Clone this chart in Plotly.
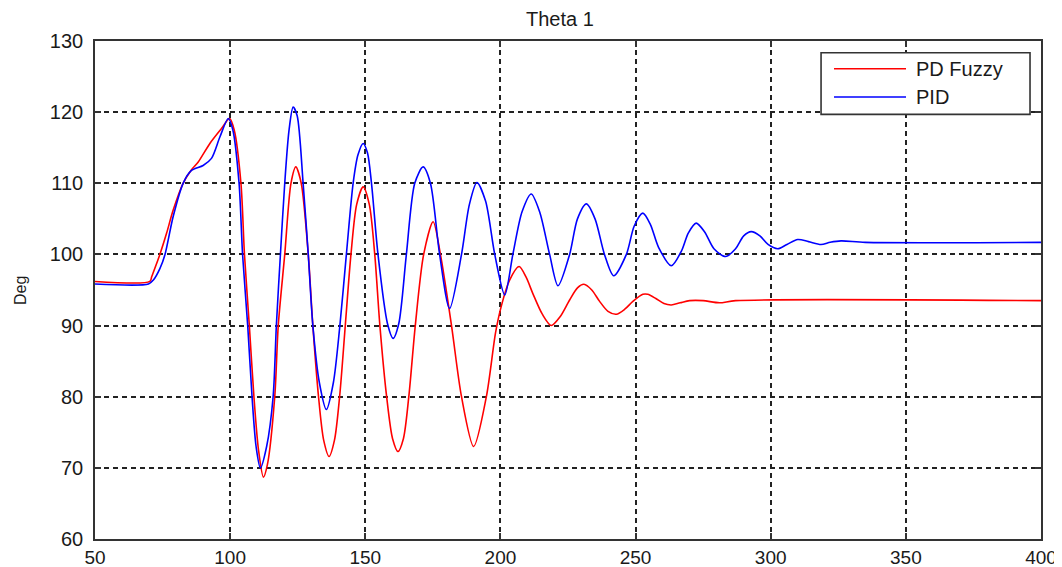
import plotly.graph_objects as go

# ---- data ----
t_fuzzy = [50, 70.3, 71, 74, 76.5, 78.9, 82.6, 85.5, 88.2, 92.5, 96.8, 99.8, 101.5, 104, 105.3,
           107.1, 108.8, 110.5, 112.3, 113.8, 116.5, 117.8, 120.2, 122.5, 124.3, 126.3, 128.9,
           130.6, 132.7, 134.6, 136.6, 138.6, 140.5, 142.6, 144.7, 146.8, 149.2, 151.5, 153.5,
           155.4, 157.9, 160.1, 162.1, 164.1, 166.1, 168.5, 171.6, 175.1, 177.8, 181.9, 185.6,
           190.1, 194.8, 198.2, 200.3, 203.4, 206.9, 209.5, 212, 215.5, 218.8, 222, 225.6,
           228.5, 230.9, 233.8, 236.7, 239.8, 242.9, 246, 249, 252.7, 254.5, 257.5, 260.5,
           263.2, 266.5, 270, 275, 281, 287, 400]
pd_fuzzy = [96.2, 96.2, 96.9, 100, 103, 106.2, 110, 111.8, 113, 115.6, 117.7, 119.1, 117.5, 110, 100,
            90, 80, 72.5, 68.7, 70.5, 80, 90, 100, 110, 112.3, 110, 100,
            90, 80, 73.9, 71.6, 73.9, 80, 90, 100, 107, 109.5, 107, 100,
            90, 80, 74.1, 72.3, 74.1, 80, 90, 100, 104.6, 100, 90, 80,
            73, 80, 89, 92.7, 96.4, 98.3, 96.8, 94.5, 91.6, 90, 91.2, 93.6,
            95.3, 95.8, 95, 93.4, 92, 91.6, 92.3, 93.4, 94.4, 94.4, 93.8, 93.1,
            92.9, 93.2, 93.5, 93.5, 93.2, 93.5, 93.5]

t_pid = [50, 69.8, 71.6, 74, 75.9, 78.9, 82.6, 85.7, 90, 93.1, 96.2, 99.3, 101, 103.3, 104.6,
         106.5, 108.1, 109.6, 111.2, 113.5, 115.9, 117.1, 118.6, 120.2, 121.8, 123.3, 124.8,
         127, 128.9, 130.6, 133, 135.6, 138.2, 140.6, 143, 145.5, 147.3, 149.2, 150.8,
         152.3, 154.7, 158.2, 160.3, 162.4, 165.2, 168.3, 171.4, 174.1, 177.5, 181.2, 185.6,
         188.5, 191.3, 194.5, 197.9, 201.6, 204.6, 208, 211.4, 214.5, 218.2, 221.3, 225.6,
         228.5, 231.8, 235, 238.5, 241.9, 246.6, 249.5, 252.7, 255.5, 258.5, 263.2, 267,
         269.5, 272.4, 275.5, 279, 283.3, 287, 290, 292.8, 296, 299, 302.6, 306, 310, 314,
         318.6, 322, 326, 335, 400]
pid = [95.85, 95.85, 96.4, 98, 100, 105.3, 110, 111.8, 112.5, 113.5, 116.5, 119.1, 117.5, 110, 100,
       90, 80, 73, 70.0, 73, 80, 90, 100, 110, 117.5, 120.7, 119.5,
       110, 100, 90, 82, 78.2, 82, 90, 100, 110, 114, 115.6, 114.3,
       110, 100, 90.3, 88.2, 90.3, 100, 110, 112.3, 110, 100, 92.4, 100,
       107, 110.1, 107.5, 100, 94.3, 100, 106, 108.5, 106, 100, 95.6, 100,
       105, 107.1, 105, 100, 97, 100, 104, 105.8, 104.2, 101, 98.4, 100.5,
       103, 104.4, 103.2, 100.8, 99.7, 100.8, 102.6, 103.2, 102.6, 101.4, 100.8, 101.4, 102.1, 101.8,
       101.4, 101.7, 101.9, 101.7, 101.7]

series_names = ["PD Fuzzy", "PID"]
series_colors = ["#ff0000", "#0000ff"]
x_ticks = [50, 100, 150, 200, 250, 300, 350, 400]
y_ticks = [60, 70, 80, 90, 100, 110, 120, 130]

FONT = "Liberation Sans, Arial, sans-serif"
TXT = "#1a1a1a"

fig = go.Figure()
fig.add_trace(go.Scatter(x=t_fuzzy, y=pd_fuzzy, mode="lines", name=series_names[0],
                         line=dict(color=series_colors[0], width=1.6, shape="spline", smoothing=0.8),
                         showlegend=False))
fig.add_trace(go.Scatter(x=t_pid, y=pid, mode="lines", name=series_names[1],
                         line=dict(color=series_colors[1], width=1.6, shape="spline", smoothing=0.8),
                         showlegend=False))

axis_common = dict(
    showline=True, linecolor="#333333", linewidth=1.6, mirror="ticks",
    ticks="inside", ticklen=6, tickwidth=1.6, tickcolor="#333333",
    showgrid=True, gridcolor="#222222", gridwidth=1.6, griddash="5px,4px",
    zeroline=False, automargin=False,
)

fig.update_xaxes(range=[50, 400], tickvals=x_ticks, ticktext=[str(v) for v in x_ticks],
                 ticklabelstandoff=0, tickfont=dict(family=FONT, size=19, color=TXT), **axis_common)
fig.update_yaxes(range=[60, 130], tickvals=y_ticks, ticktext=[str(v) for v in y_ticks],
                 ticklabelstandoff=6, tickfont=dict(family=FONT, size=20, color=TXT), **axis_common)

# manual legend (MATLAB style)
fig.add_shape(type="rect", xref="paper", yref="paper", x0=0.7675, x1=0.9884, y0=0.8527, y1=0.9764,
              line=dict(color="#333333", width=1.6), fillcolor="white", layer="above")
legend_y = [0.9443, 0.8874]
for name, col, ly in zip(series_names, series_colors, legend_y):
    fig.add_shape(type="line", xref="paper", yref="paper", x0=0.7812, x1=0.8573, y0=ly, y1=ly,
                  line=dict(color=col, width=1.6), layer="above")
    fig.add_annotation(xref="paper", yref="paper", x=0.8658, y=ly, text=name, showarrow=False,
                       xanchor="left", yanchor="middle",
                       font=dict(family=FONT, size=20, color=TXT))

# title and y label
fig.add_annotation(xref="paper", yref="paper", x=0.4915, y=1.0441, text="Theta 1", showarrow=False,
                   xanchor="center", yanchor="middle", font=dict(family=FONT, size=20, color=TXT))
fig.add_annotation(xref="paper", yref="paper", x=-0.0793, y=0.5, text="Deg", showarrow=False,
                   textangle=-90, xanchor="center", yanchor="middle",
                   font=dict(family=FONT, size=16, color=TXT))

# the page body adds an 8px offset; size the figure so the plot area lands where the reference has it
fig.update_layout(
    width=1054, height=559,
    margin=dict(l=87, r=21, t=32.5, b=27.5, pad=0, autoexpand=False),
    plot_bgcolor="white", paper_bgcolor="white",
    showlegend=False,
)

fig.write_html("out.html")
